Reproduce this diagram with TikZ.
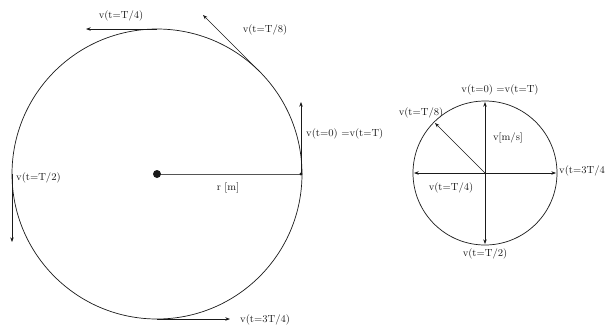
\documentclass[tikz,border=0pt]{standalone}
\usetikzlibrary{arrows.meta}
\definecolor{ink}{HTML}{1A1A1A}
\definecolor{ink2}{HTML}{555555}

\begin{document}
\begin{tikzpicture}[
  x=0.03cm, y=-0.03cm,
  >=Stealth,
  vel/.style={->, draw=ink, line width=0.6pt, >={Stealth[length=4pt,width=3pt]}},
  lbl/.style={font=\fontsize{8.8}{10}\selectfont, text=ink, inner sep=0pt},
]
\useasboundingbox (0,0) rectangle (611,326);

\coordinate (O) at (157,174);
\coordinate (p0) at (301,174);
\coordinate (p8) at (259.5,71.5);
\coordinate (p4) at (157,29);
\coordinate (p2) at (12,174);
\coordinate (p34) at (157,319);
\coordinate (e0) at (301,102);
\coordinate (e8) at (203,15);
\coordinate (e4) at (86,29);
\coordinate (e2) at (12,242);
\coordinate (e34) at (230,319);

\draw[ink, line width=0.6pt] (O) circle (145);
\draw[ink2, line width=0.7pt] (O) -- (p0);
\fill[ink] (O) circle (4);
\fill[ink] (p0) circle (1.6);
\draw[vel] (p0) -- (e0);
\draw[vel] (p8) -- (e8);
\draw[vel] (p4) -- (e4);
\draw[vel] (p2) -- (e2);
\draw[vel] (p34) -- (e34);

\node[lbl] (rlab) at (228,188) {r [m]};
\node[lbl, anchor=west] (l0) at (306,134) {v(t=0) =v(t=T)};
\node[lbl] (l8) at (265,30) {v(t=T/8)};
\node[lbl] (l4) at (121,16) {v(t=T/4)};
\node[lbl, anchor=west] (l2) at (16,178) {v(t=T/2)};
\node[lbl, anchor=west] (l34) at (240,320) {v(t=3T/4)};

\coordinate (C) at (485,173);
\coordinate (q0) at (485,102);
\coordinate (q8) at (435,123);
\coordinate (q4) at (414,173);
\coordinate (q2) at (485,244);
\coordinate (q34) at (556,173);

\draw[ink, line width=0.6pt] (C) circle (72);
\draw[vel] (C) -- (q0);
\draw[vel] (C) -- (q8);
\draw[vel] (C) -- (q4);
\draw[vel] (C) -- (q2);
\draw[vel] (C) -- (q34);

\node[lbl] (s0) at (500,90) {v(t=0) =v(t=T)};
\node[lbl] (s8) at (421,113) {v(t=T/8)};
\node[lbl] (sv) at (508,138) {v[m/s]};
\node[lbl, anchor=west] (s34) at (559,171) {v(t=3T/4};
\node[lbl] (s4) at (451,188) {v(t=T/4)};
\node[lbl] (s2) at (485,254) {v(t=T/2)};

\end{tikzpicture}
\end{document}
